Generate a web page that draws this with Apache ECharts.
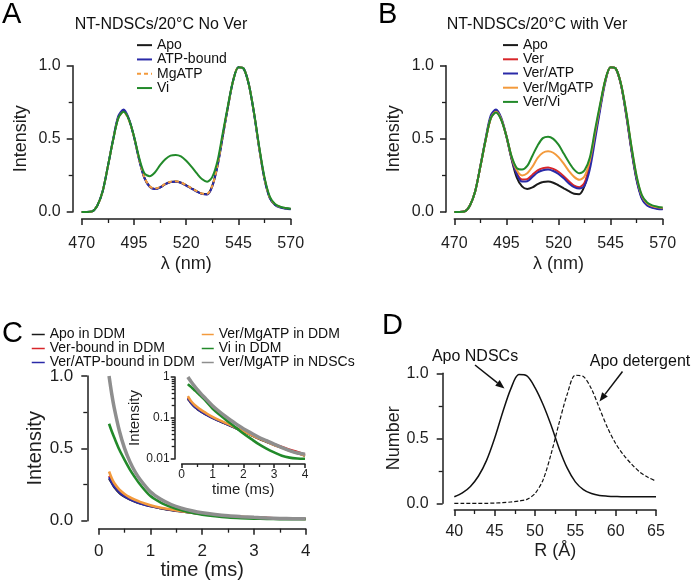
<!DOCTYPE html>
<html><head><meta charset="utf-8">
<script src="https://cdn.jsdelivr.net/npm/echarts@6/dist/echarts.min.js"></script>
<style>html,body{margin:0;padding:0;background:#fff}#c{width:693px;height:581px}</style>
</head><body><div id="c"></div>
<script>
// ---------- DATA ----------
const wavelength = [470,472.5,475,477.5,480,482.5,485,487.5,490,492.5,495,497.5,500,502.5,505,507.5,510,512.5,515,517.5,520,522.5,525,527.5,530,532.5,535,537.5,540,542.5,545,547.5,550,552.5,555,557.5,560,562.5,565,567.5,570];
// Panel A
const aApo   = [0,0,0.004,0.045,0.14,0.31,0.49,0.645,0.69,0.635,0.515,0.36,0.235,0.175,0.158,0.168,0.19,0.205,0.208,0.2,0.182,0.162,0.142,0.125,0.122,0.18,0.32,0.52,0.72,0.9,0.99,0.98,0.87,0.67,0.43,0.225,0.097,0.05,0.033,0.025,0.02];
const aATP   = [0,0,0.004,0.045,0.14,0.31,0.495,0.655,0.70,0.64,0.515,0.355,0.232,0.173,0.157,0.167,0.19,0.205,0.207,0.2,0.181,0.16,0.14,0.124,0.12,0.175,0.315,0.515,0.72,0.9,0.99,0.98,0.87,0.67,0.43,0.22,0.095,0.048,0.03,0.022,0.018];
const aMgATP = [0,0,0.004,0.045,0.14,0.31,0.49,0.64,0.685,0.63,0.515,0.36,0.237,0.176,0.16,0.17,0.192,0.207,0.21,0.202,0.184,0.163,0.143,0.127,0.124,0.18,0.32,0.52,0.72,0.9,0.99,0.98,0.87,0.67,0.43,0.225,0.1,0.052,0.035,0.027,0.022];
const aVi    = [0,0,0.004,0.045,0.14,0.31,0.49,0.64,0.685,0.635,0.52,0.37,0.265,0.245,0.27,0.32,0.36,0.385,0.39,0.38,0.35,0.31,0.265,0.225,0.207,0.24,0.35,0.54,0.73,0.9,0.99,0.98,0.87,0.675,0.44,0.235,0.105,0.055,0.036,0.028,0.022];
// Panel B
const bApo      = [0,0,0.004,0.045,0.14,0.31,0.49,0.645,0.69,0.635,0.515,0.36,0.235,0.175,0.158,0.168,0.19,0.205,0.208,0.2,0.182,0.162,0.142,0.125,0.122,0.18,0.32,0.52,0.72,0.9,0.99,0.98,0.87,0.67,0.43,0.225,0.097,0.05,0.033,0.025,0.02];
const bVer      = [0,0,0.004,0.045,0.14,0.31,0.49,0.64,0.685,0.635,0.52,0.37,0.265,0.222,0.225,0.255,0.285,0.3,0.305,0.295,0.275,0.245,0.21,0.18,0.17,0.2,0.32,0.52,0.72,0.9,0.99,0.98,0.87,0.67,0.43,0.225,0.1,0.052,0.034,0.026,0.021];
const bVerATP   = [0,0,0.004,0.045,0.14,0.315,0.5,0.66,0.70,0.645,0.52,0.365,0.258,0.208,0.21,0.24,0.27,0.285,0.29,0.28,0.26,0.23,0.195,0.17,0.16,0.18,0.29,0.49,0.7,0.89,0.99,0.98,0.87,0.66,0.42,0.215,0.09,0.045,0.028,0.021,0.018];
const bVerMgATP = [0,0,0.004,0.045,0.14,0.31,0.49,0.64,0.685,0.635,0.52,0.375,0.285,0.25,0.265,0.31,0.37,0.405,0.415,0.405,0.375,0.33,0.28,0.24,0.22,0.245,0.35,0.54,0.73,0.9,0.99,0.98,0.875,0.68,0.445,0.24,0.11,0.06,0.04,0.032,0.028];
const bVerVi    = [0,0,0.004,0.045,0.14,0.31,0.49,0.64,0.68,0.63,0.52,0.38,0.3,0.29,0.315,0.385,0.455,0.505,0.515,0.5,0.46,0.4,0.34,0.29,0.265,0.285,0.37,0.56,0.74,0.905,0.99,0.98,0.875,0.685,0.45,0.245,0.115,0.065,0.045,0.036,0.03];
// Panel C
const timeMs = [0.2,0.25,0.3,0.4,0.5,0.6,0.7,0.8,1.0,1.2,1.4,1.6,1.8,2.0,2.25,2.5,2.75,3.0,3.25,3.5,3.75,4.0];
const cApoDDM      = [0.29,0.26,0.23,0.19,0.165,0.146,0.131,0.119,0.099,0.085,0.073,0.063,0.054,0.046,0.038,0.031,0.026,0.022,0.019,0.016,0.014,0.012];
const cVerDDM      = [0.31,0.27,0.24,0.2,0.172,0.152,0.136,0.123,0.102,0.088,0.076,0.066,0.056,0.048,0.04,0.033,0.028,0.023,0.02,0.017,0.015,0.013];
const cVerATPDDM   = [0.30,0.265,0.235,0.195,0.168,0.148,0.133,0.12,0.1,0.086,0.074,0.064,0.055,0.047,0.039,0.032,0.027,0.022,0.019,0.016,0.014,0.012];
const cVerMgATPDDM = [0.34,0.295,0.26,0.215,0.185,0.162,0.145,0.13,0.107,0.09,0.077,0.066,0.056,0.047,0.039,0.032,0.027,0.022,0.019,0.016,0.014,0.012];
const cViDDM       = [0.67,0.62,0.575,0.49,0.42,0.355,0.3,0.25,0.17,0.125,0.095,0.072,0.055,0.042,0.031,0.023,0.018,0.0145,0.012,0.0108,0.0103,0.0101];
const cVerMgATPNDSC= [1.0,0.88,0.78,0.62,0.5,0.41,0.34,0.285,0.2,0.148,0.112,0.087,0.069,0.055,0.043,0.034,0.028,0.023,0.019,0.016,0.014,0.013];
// Panel D
const radius = [40,41,42,43,44,45,46,47,48,49,50,51,52,53,54,55,56,57,58,59,60,61,62,63,64,65];
const dNDSC  = [0.05,0.08,0.13,0.21,0.33,0.5,0.7,0.88,0.99,0.98,0.89,0.76,0.6,0.42,0.27,0.165,0.105,0.075,0.06,0.055,0.052,0.05,0.05,0.05,0.05,0.05];
const dDet   = [0,0,0,0,0,0.002,0.005,0.01,0.018,0.03,0.075,0.18,0.38,0.62,0.84,0.985,0.975,0.88,0.73,0.58,0.46,0.37,0.3,0.24,0.2,0.17];

// ---------- STYLE ----------
const FONT = "'Liberation Sans', Arial, Helvetica, sans-serif";
const INK = '#1e1e1e';
const COL = {black:'#1a1a1a', blue:'#2a2aa8', red:'#d8262a', orange:'#f39a3c', green:'#228a2a', gray:'#8e8e8e'};

function pairs(xs, ys){ return xs.map((x,i)=>[x, ys[i]]); }

function axis(o){
  return {
    type: o.type || 'value', gridIndex: o.grid, min: o.min, max: o.max, interval: o.interval,
    logBase: o.logBase, offset: o.offset, name: o.name, nameLocation: 'middle', nameGap: o.nameGap,
    nameTextStyle: {fontFamily: FONT, color: INK, fontSize: o.nameSize},
    axisLine: {show: true, onZero: false, lineStyle: {color: INK, width: 1.5}},
    axisTick: {show: true, length: o.tickLen || 6, lineStyle: {color: INK, width: 1.5}},
    minorTick: {show: true, splitNumber: o.minorSplit || 2, length: o.minorLen || 4, lineStyle: {color: INK, width: 1.3}},
    splitLine: {show: false}, minorSplitLine: {show: false},
    axisLabel: {fontFamily: FONT, color: INK, fontSize: o.labelSize, margin: o.margin,
      formatter: o.fmt, showMinLabel: true, showMaxLabel: true}
  };
}
const f1 = v => v.toFixed(1);

function line(name, xi, xs, ys, color, width, extra){
  return Object.assign({
    type: 'line', name, xAxisIndex: xi, yAxisIndex: xi, data: pairs(xs, ys),
    symbol: 'none', showSymbol: false, smooth: 0.3, clip: false,
    lineStyle: {color, width}, itemStyle: {color}, emphasis: {disabled: true}
  }, extra || {});
}

// arrow helper for annotation arrows (pixel layout, not data)
function arrow(x1, y1, x2, y2){
  const dx = x2 - x1, dy = y2 - y1, L = Math.hypot(dx, dy), ux = dx / L, uy = dy / L;
  const hl = 9, hw = 3.6, bx = x2 - hl * ux, by = y2 - hl * uy, px = -uy * hw, py = ux * hw;
  return [
    {type:'line', shape:{x1, y1, x2:bx, y2:by}, style:{stroke:'#111', lineWidth:1.5}},
    {type:'polygon', shape:{points:[[x2,y2],[bx+px,by+py],[bx-px,by-py]]}, style:{fill:'#111'}}
  ];
}

const chart = echarts.init(document.getElementById('c'), null, {renderer: 'canvas'});
const legendText = {fontFamily: FONT, color: '#111', fontSize: 14};
const legendCommon = {orient:'vertical', padding:0, itemGap:0, selectedMode:false,
  itemStyle:{color:'transparent', borderWidth:0, opacity:0}};

chart.setOption({
  animation: false,
  backgroundColor: '#fff',
  grid: [
    {left: 81.7, top: 65.7, width: 209, height: 146.3, outerBoundsMode: 'none'},
    {left: 454.3, top: 65.7, width: 208.4, height: 146.3, outerBoundsMode: 'none'},
    {left: 98.7, top: 376, width: 207, height: 144.7, outerBoundsMode: 'none'},
    {left: 181.7, top: 377, width: 123.3, height: 82, outerBoundsMode: 'none'},
    {left: 454.3, top: 373.3, width: 201.7, height: 130, outerBoundsMode: 'none'}
  ],
  xAxis: [
    axis({grid:0, min:470, max:570, interval:25, offset:7, name:'λ (nm)', nameGap:36, nameSize:18, labelSize:16, margin:17}),
    axis({grid:1, min:470, max:570, interval:25, offset:7, name:'λ (nm)', nameGap:36, nameSize:18, labelSize:16, margin:17}),
    axis({grid:2, min:0, max:4, interval:1, offset:8, name:'time (ms)', nameGap:31, nameSize:20, labelSize:17, margin:14}),
    axis({grid:3, min:0, max:4, interval:1, offset:5, name:'time (ms)', nameGap:17, nameSize:15, labelSize:12, margin:5, tickLen:4, minorLen:3}),
    axis({grid:4, min:40, max:65, interval:5, offset:6.7, name:'R (Å)', nameGap:32, nameSize:18, labelSize:16, margin:14})
  ],
  yAxis: [
    axis({grid:0, min:0, max:1, interval:0.5, offset:9, name:'Intensity', nameGap:43, nameSize:18, labelSize:16, margin:12, fmt:f1}),
    axis({grid:1, min:0, max:1, interval:0.5, offset:8.3, name:'Intensity', nameGap:43, nameSize:18, labelSize:16, margin:12, fmt:f1}),
    axis({grid:2, min:0, max:1, interval:0.5, offset:11.4, name:'Intensity', nameGap:38, nameSize:20, labelSize:17, margin:14, fmt:f1}),
    axis({grid:3, type:'log', logBase:10, min:0.01, max:1, offset:7, name:'Intensity', nameGap:24, nameSize:15, labelSize:12, margin:5, tickLen:4, minorLen:3, minorSplit:9}),
    axis({grid:4, min:0, max:1, interval:0.5, offset:11.6, name:'Number', nameGap:40, nameSize:18, labelSize:16, margin:14, fmt:f1})
  ],
  legend: [
    Object.assign({data:['Apo','ATP-bound','MgATP','Vi'], left:136, top:38, itemWidth:15, itemHeight:10,
      textStyle:Object.assign({lineHeight:14.3}, legendText)}, legendCommon),
    Object.assign({data:['Apo','Ver','Ver/ATP','Ver/MgATP','Ver/Vi'], left:502, top:38, itemWidth:15, itemHeight:10,
      textStyle:Object.assign({lineHeight:14.2}, legendText)}, legendCommon),
    Object.assign({data:['Apo in DDM','Ver-bound in DDM','Ver/ATP-bound in DDM'], left:31, top:327.5, itemWidth:13, itemHeight:8,
      lineStyle:{width:1.5}, textStyle:Object.assign({lineHeight:11}, legendText)}, legendCommon),
    Object.assign({data:['Ver/MgATP in DDM','Vi in DDM','Ver/MgATP in NDSCs'], left:201, top:327.5, itemWidth:12, itemHeight:8,
      lineStyle:{width:1.5}, textStyle:Object.assign({lineHeight:11}, legendText)}, legendCommon)
  ],
  graphic: [
    {type:'text', left:2, top:0, style:{text:'A', fontFamily:FONT, fontSize:29, fill:'#000'}},
    {type:'text', left:378, top:0, style:{text:'B', fontFamily:FONT, fontSize:29, fill:'#000'}},
    {type:'text', left:2, top:319, style:{text:'C', fontFamily:FONT, fontSize:29, fill:'#000'}},
    {type:'text', left:382, top:311, style:{text:'D', fontFamily:FONT, fontSize:29, fill:'#000'}},
    {type:'text', x:161, y:25, style:{text:'NT-NDSCs/20°C No Ver', fontFamily:FONT, fontSize:16, fill:'#111', align:'center', verticalAlign:'middle'}},
    {type:'text', x:537, y:25, style:{text:'NT-NDSCs/20°C with Ver', fontFamily:FONT, fontSize:16, fill:'#111', align:'center', verticalAlign:'middle'}},
    {type:'text', x:475, y:357, style:{text:'Apo NDSCs', fontFamily:FONT, fontSize:16, fill:'#111', align:'center', verticalAlign:'middle'}},
    {type:'text', x:640, y:362, style:{text:'Apo detergent', fontFamily:FONT, fontSize:16, fill:'#111', align:'center', verticalAlign:'middle'}}
  ].concat(arrow(475, 365, 504.5, 388.5), arrow(622.5, 371.5, 599.5, 401.5)),
  series: [
    // A
    line('Apo', 0, wavelength, aApo, COL.black, 2),
    line('ATP-bound', 0, wavelength, aATP, COL.blue, 2),
    line('MgATP', 0, wavelength, aMgATP, COL.orange, 2, {lineStyle:{color:COL.orange, width:2, type:[4,3]}}),
    line('Vi', 0, wavelength, aVi, COL.green, 2),
    // B
    line('Apo', 1, wavelength, bApo, COL.black, 2),
    line('Ver', 1, wavelength, bVer, COL.red, 2),
    line('Ver/ATP', 1, wavelength, bVerATP, COL.blue, 2),
    line('Ver/MgATP', 1, wavelength, bVerMgATP, COL.orange, 2),
    line('Ver/Vi', 1, wavelength, bVerVi, COL.green, 2),
    // C main
    line('Apo in DDM', 2, timeMs, cApoDDM, COL.black, 2),
    line('Ver-bound in DDM', 2, timeMs, cVerDDM, COL.red, 2),
    line('Ver/ATP-bound in DDM', 2, timeMs, cVerATPDDM, COL.blue, 2.2),
    line('Ver/MgATP in DDM', 2, timeMs, cVerMgATPDDM, COL.orange, 2.6),
    line('Vi in DDM', 2, timeMs, cViDDM, COL.green, 2.6),
    line('Ver/MgATP in NDSCs', 2, timeMs, cVerMgATPNDSC, COL.gray, 3.5),
    // C inset
    line('Apo in DDM', 3, timeMs, cApoDDM, COL.black, 2),
    line('Ver-bound in DDM', 3, timeMs, cVerDDM, COL.red, 2),
    line('Ver/ATP-bound in DDM', 3, timeMs, cVerATPDDM, COL.blue, 2.2),
    line('Ver/MgATP in DDM', 3, timeMs, cVerMgATPDDM, COL.orange, 2.6),
    line('Vi in DDM', 3, timeMs, cViDDM, COL.green, 2.6),
    line('Ver/MgATP in NDSCs', 3, timeMs, cVerMgATPNDSC, COL.gray, 3.5),
    // D
    line('Apo NDSCs', 4, radius, dNDSC, '#111', 1.5),
    line('Apo detergent', 4, radius, dDet, '#111', 1.2, {lineStyle:{color:'#111', width:1.2, type:[4,2]}})
  ]
});
</script></body></html>
